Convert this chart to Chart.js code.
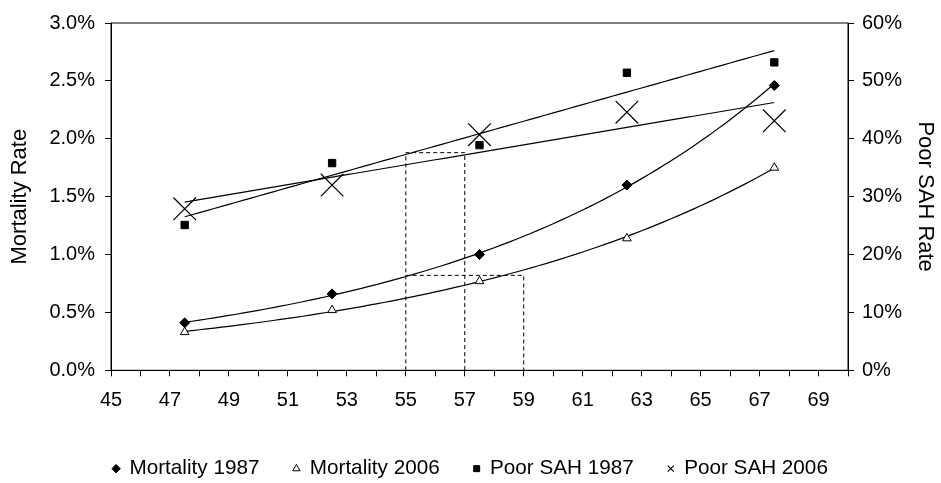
<!DOCTYPE html>
<html>
<head>
<meta charset="utf-8">
<script src="https://cdn.jsdelivr.net/npm/chart.js@4.4.1/dist/chart.umd.min.js"></script>
<style>
  html, body { margin: 0; padding: 0; background: #fff; }
  #wrap { width: 941px; height: 483px; }
</style>
</head>
<body>
<div id="wrap"><canvas id="chart" width="941" height="483"></canvas></div>
<script>
// age group midpoints
const ages = [47.5, 52.5, 57.5, 62.5, 67.5];

// left axis, mortality rate in %
const mortality1987 = [0.41, 0.66, 1.00, 1.60, 2.46];
const mortality2006 = [0.33, 0.52, 0.77, 1.14, 1.75];

// right axis, poor self-assessed health in %
const poorSah1987 = [25.1, 35.8, 38.9, 51.4, 53.2];
const poorSah2006 = [27.9, 32.0, 40.7, 44.6, 43.1];

// dashed guide lines (age, mortality %)
const guideAx = [55, 55, 57, 57];
const guideAy = [0, 1.88, 1.88, 0];
const guideBx = [55, 59, 59];
const guideBy = [0.82, 0.82, 0];

const xMin = 45, xMax = 70;

function toPoints(xs, ys) {
    return xs.map((x, i) => ({ x: x, y: ys[i] }));
}

// least squares fit, like spreadsheet trendlines
function linearFit(xs, ys) {
    const n = xs.length;
    const mx = xs.reduce((a, b) => a + b, 0) / n;
    const my = ys.reduce((a, b) => a + b, 0) / n;
    let sxy = 0, sxx = 0;
    xs.forEach((x, i) => { sxy += (x - mx) * (ys[i] - my); sxx += (x - mx) * (x - mx); });
    const b = sxy / sxx;
    return x => my + b * (x - mx);
}

function expFit(xs, ys) {
    const f = linearFit(xs, ys.map(Math.log));
    return x => Math.exp(f(x));
}

function trendPoints(fit) {
    const pts = [];
    for (let x = ages[0]; x <= ages[ages.length - 1] + 1e-9; x += 0.25) {
        pts.push({ x: x, y: fit(x) });
    }
    return pts;
}

function trendSet(data, axis) {
    return {
        label: 'trend', data: data, yAxisID: axis, showLine: true,
        borderColor: '#000', borderWidth: 1.2, pointRadius: 0, fill: false
    };
}

function guideSet(xs, ys) {
    return {
        label: 'guide', data: toPoints(xs, ys), yAxisID: 'y', showLine: true,
        borderColor: '#000', borderWidth: 1, borderDash: [4, 3], pointRadius: 0, fill: false
    };
}

// outer frame of the plot area
const frame = {
    id: 'frame',
    afterDatasetsDraw(chart) {
        const a = chart.chartArea;
        const ctx = chart.ctx;
        ctx.save();
        ctx.strokeStyle = '#000';
        ctx.lineWidth = 1;
        ctx.strokeRect(a.left, a.top, a.right - a.left, a.bottom - a.top);
        ctx.restore();
    }
};

Chart.defaults.font.family = "'Liberation Sans', Arial, sans-serif";
Chart.defaults.font.size = 20;
Chart.defaults.color = '#000';

const ctx = document.getElementById('chart').getContext('2d');
new Chart(ctx, {
    type: 'scatter',
    data: {
        datasets: [
            {
                label: 'Mortality 1987', data: toPoints(ages, mortality1987), yAxisID: 'y',
                pointStyle: 'rectRot', pointRadius: 5, backgroundColor: '#000', borderColor: '#000', borderWidth: 1
            },
            {
                label: 'Mortality 2006', data: toPoints(ages, mortality2006), yAxisID: 'y',
                pointStyle: 'triangle', pointRadius: 5, backgroundColor: '#fff', borderColor: '#000', borderWidth: 1
            },
            {
                label: 'Poor SAH 1987', data: toPoints(ages, poorSah1987), yAxisID: 'y2',
                pointStyle: 'rect', pointRadius: 5.2, backgroundColor: '#000', borderColor: '#000', borderWidth: 1
            },
            {
                label: 'Poor SAH 2006', data: toPoints(ages, poorSah2006), yAxisID: 'y2',
                pointStyle: 'crossRot', pointRadius: 16, backgroundColor: '#000', borderColor: '#000', borderWidth: 1.2
            },
            trendSet(trendPoints(expFit(ages, mortality1987)), 'y'),
            trendSet(trendPoints(expFit(ages, mortality2006)), 'y'),
            trendSet(trendPoints(linearFit(ages, poorSah1987)), 'y2'),
            trendSet(trendPoints(linearFit(ages, poorSah2006)), 'y2'),
            guideSet(guideAx, guideAy),
            guideSet(guideBx, guideBy)
        ]
    },
    options: {
        responsive: false,
        animation: false,
        layout: { padding: { top: 23, bottom: -6, left: 0, right: 0 } },
        plugins: {
            tooltip: { enabled: false },
            legend: {
                position: 'bottom',
                labels: {
                    usePointStyle: true,
                    boxWidth: 6,
                    boxHeight: 6,
                    padding: 34,
                    font: { size: 20.7 },
                    filter: item => item.datasetIndex < 4
                }
            }
        },
        scales: {
            x: {
                type: 'linear',
                min: xMin,
                max: xMax,
                border: { color: '#000', width: 1 },
                grid: { drawOnChartArea: false, drawTicks: true, tickLength: 6, color: '#000' },
                ticks: {
                    stepSize: 1,
                    autoSkip: false,
                    maxRotation: 0,
                    padding: 12,
                    callback: v => (v % 2 === 1 ? String(v) : '')
                },
                afterFit: s => { s.height = 54; }
            },
            y: {
                position: 'left',
                min: 0,
                max: 3,
                border: { color: '#000', width: 1 },
                grid: { drawOnChartArea: false, drawTicks: true, tickLength: 6, color: '#000' },
                ticks: { stepSize: 0.5, padding: 10, callback: v => v.toFixed(1) + '%' },
                title: { display: true, text: 'Mortality Rate', font: { size: 22 }, padding: { top: 7, bottom: 0 } },
                afterFit: s => { s.width = 111; }
            },
            y2: {
                position: 'right',
                min: 0,
                max: 60,
                border: { color: '#000', width: 1 },
                grid: { drawOnChartArea: false, drawTicks: true, tickLength: 6, color: '#000' },
                ticks: { stepSize: 10, padding: 8, callback: v => v + '%' },
                title: { display: true, text: 'Poor SAH Rate', font: { size: 22 }, padding: { top: 3, bottom: 0 } },
                afterFit: s => { s.width = 93; }
            }
        }
    },
    plugins: [frame]
});
</script>
</body>
</html>
